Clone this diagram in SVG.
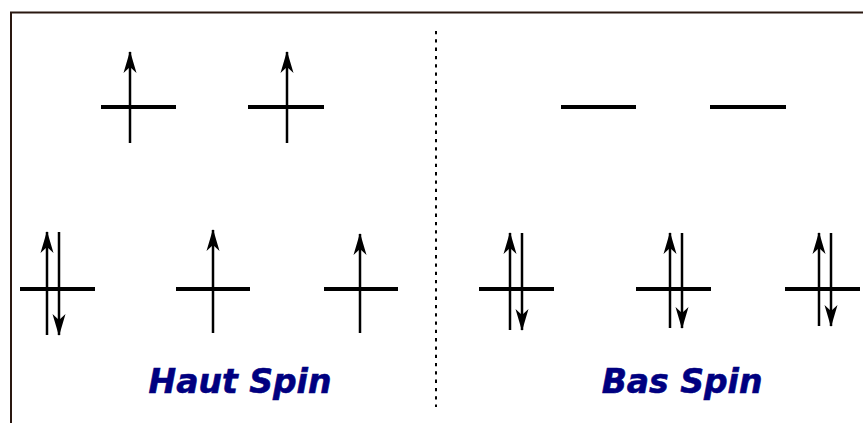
<svg xmlns="http://www.w3.org/2000/svg" width="863" height="423" viewBox="0 0 863 423">
<defs>
<style>
.lvl{stroke:#000;stroke-width:4;fill:none}
.sp{stroke:#000;stroke-width:2.5;fill:none}
.lbl{font-family:"DejaVu Sans",sans-serif;font-weight:bold;font-style:italic;font-size:33px;fill:#000080;stroke:#000080;stroke-width:0.6;text-anchor:middle}
</style>
<marker id="ah" viewBox="0 0 22 14" refX="21" refY="7" markerWidth="22" markerHeight="14" markerUnits="userSpaceOnUse" orient="auto">
<path d="M22,7 L0,0.5 L6,7 L0,13.5 Z" fill="#000"/>
</marker>
</defs>
<rect width="863" height="423" fill="#fff"/>
<path d="M11,423 V12.5 H863" stroke="#2a1810" stroke-width="2" fill="none"/>
<line x1="436" y1="31" x2="436" y2="407" stroke="#000" stroke-width="2" stroke-dasharray="3.3,5"/>
<g id="hs-top1"><line class="lvl" x1="101" y1="107" x2="176" y2="107"/><line class="sp" x1="130" y1="143" x2="130" y2="52" marker-end="url(#ah)"/></g>
<g id="hs-top2"><line class="lvl" x1="248" y1="107" x2="324" y2="107"/><line class="sp" x1="287" y1="143" x2="287" y2="52" marker-end="url(#ah)"/></g>
<g id="hs-bot1"><line class="lvl" x1="20" y1="289" x2="95" y2="289"/><line class="sp" x1="47" y1="335" x2="47" y2="232" marker-end="url(#ah)"/><line class="sp" x1="59" y1="232" x2="59" y2="335" marker-end="url(#ah)"/></g>
<g id="hs-bot2"><line class="lvl" x1="176" y1="289" x2="250" y2="289"/><line class="sp" x1="213" y1="333" x2="213" y2="230" marker-end="url(#ah)"/></g>
<g id="hs-bot3"><line class="lvl" x1="324" y1="289" x2="398" y2="289"/><line class="sp" x1="360" y1="333" x2="360" y2="234" marker-end="url(#ah)"/></g>
<g id="ls-top1"><line class="lvl" x1="561" y1="107" x2="636" y2="107"/></g>
<g id="ls-top2"><line class="lvl" x1="710" y1="107" x2="786" y2="107"/></g>
<g id="ls-bot1"><line class="lvl" x1="479" y1="289" x2="554" y2="289"/><line class="sp" x1="510" y1="330" x2="510" y2="233" marker-end="url(#ah)"/><line class="sp" x1="522" y1="233" x2="522" y2="330" marker-end="url(#ah)"/></g>
<g id="ls-bot2"><line class="lvl" x1="636" y1="289" x2="711" y2="289"/><line class="sp" x1="670" y1="328" x2="670" y2="233" marker-end="url(#ah)"/><line class="sp" x1="682" y1="233" x2="682" y2="328" marker-end="url(#ah)"/></g>
<g id="ls-bot3"><line class="lvl" x1="785" y1="289" x2="860" y2="289"/><line class="sp" x1="819" y1="326" x2="819" y2="233" marker-end="url(#ah)"/><line class="sp" x1="831" y1="233" x2="831" y2="326" marker-end="url(#ah)"/></g>
<text class="lbl" x="240" y="393">Haut Spin</text>
<text class="lbl" x="682" y="393">Bas Spin</text>
</svg>
